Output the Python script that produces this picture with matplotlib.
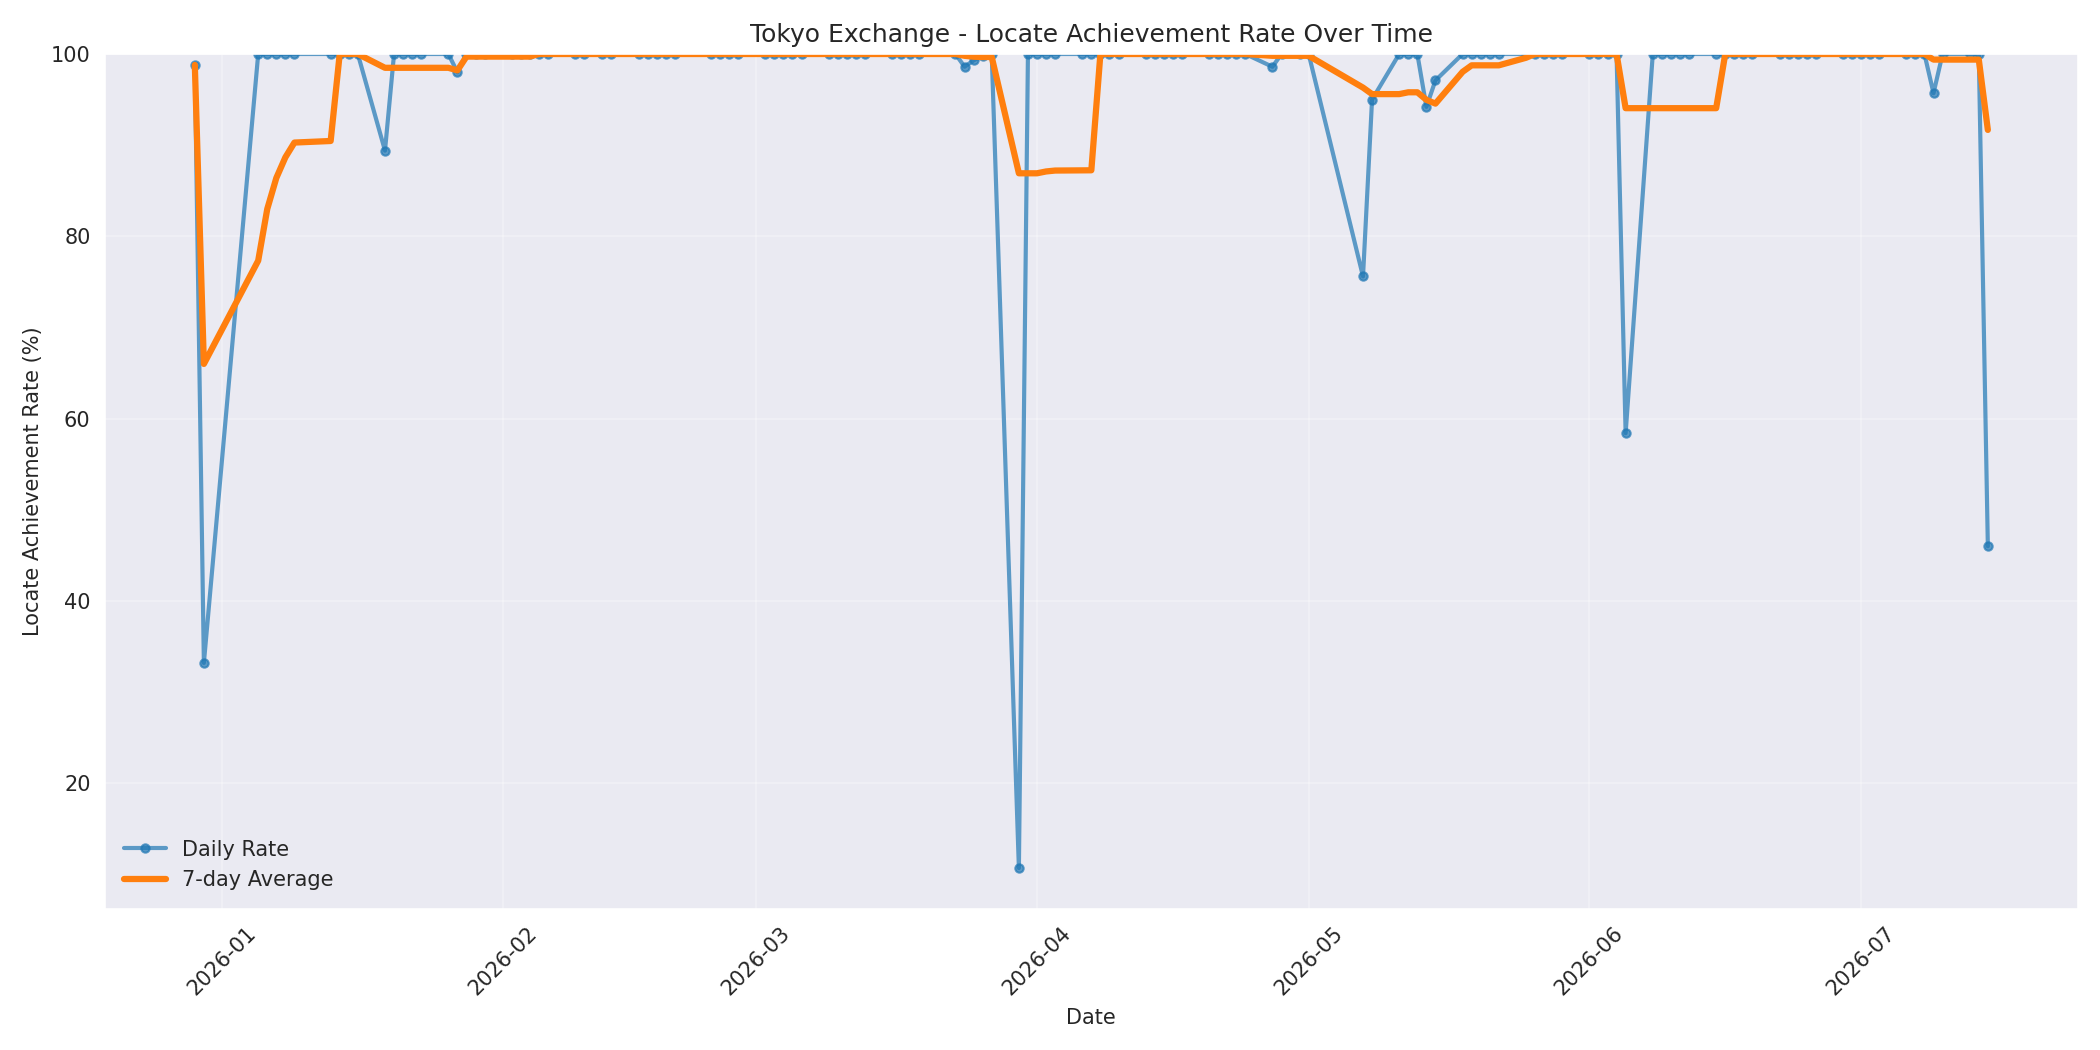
import matplotlib
matplotlib.use("Agg")
import matplotlib.pyplot as plt
import matplotlib.dates as mdates
import seaborn as sns
import pandas as pd

dates = [
    "2025-12-29", "2025-12-30",
    "2026-01-05", "2026-01-06", "2026-01-07", "2026-01-08", "2026-01-09",
    "2026-01-13", "2026-01-14", "2026-01-15", "2026-01-16",
    "2026-01-19", "2026-01-20", "2026-01-21", "2026-01-22", "2026-01-23",
    "2026-01-26", "2026-01-27", "2026-01-28", "2026-01-29", "2026-01-30",
    "2026-02-02", "2026-02-03", "2026-02-04", "2026-02-05", "2026-02-06",
    "2026-02-09", "2026-02-10", "2026-02-12", "2026-02-13",
    "2026-02-16", "2026-02-17", "2026-02-18", "2026-02-19", "2026-02-20",
    "2026-02-24", "2026-02-25", "2026-02-26", "2026-02-27",
    "2026-03-02", "2026-03-03", "2026-03-04", "2026-03-05", "2026-03-06",
    "2026-03-09", "2026-03-10", "2026-03-11", "2026-03-12", "2026-03-13",
    "2026-03-16", "2026-03-17", "2026-03-18", "2026-03-19",
    "2026-03-23", "2026-03-24", "2026-03-25", "2026-03-26", "2026-03-27",
    "2026-03-30", "2026-03-31", "2026-04-01", "2026-04-02", "2026-04-03",
    "2026-04-06", "2026-04-07", "2026-04-08", "2026-04-09", "2026-04-10",
    "2026-04-13", "2026-04-14", "2026-04-15", "2026-04-16", "2026-04-17",
    "2026-04-20", "2026-04-21", "2026-04-22", "2026-04-23", "2026-04-24",
    "2026-04-27", "2026-04-28", "2026-04-30", "2026-05-01",
    "2026-05-07", "2026-05-08",
    "2026-05-11", "2026-05-12", "2026-05-13", "2026-05-14", "2026-05-15",
    "2026-05-18", "2026-05-19", "2026-05-20", "2026-05-21", "2026-05-22",
    "2026-05-25", "2026-05-26", "2026-05-27", "2026-05-28", "2026-05-29",
    "2026-06-01", "2026-06-02", "2026-06-03", "2026-06-04", "2026-06-05",
    "2026-06-08", "2026-06-09", "2026-06-10", "2026-06-11", "2026-06-12",
    "2026-06-15", "2026-06-16", "2026-06-17", "2026-06-18", "2026-06-19",
    "2026-06-22", "2026-06-23", "2026-06-24", "2026-06-25", "2026-06-26",
    "2026-06-29", "2026-06-30", "2026-07-01", "2026-07-02", "2026-07-03",
    "2026-07-06", "2026-07-07", "2026-07-08", "2026-07-09", "2026-07-10",
    "2026-07-13", "2026-07-14", "2026-07-15",
]
daily_rate = [
    98.8, 33.2,
    100, 100, 100, 100, 100,
    100, 100, 100, 100,
    89.4, 100, 100, 100, 100,
    100, 98.0, 100, 100, 100,
    100, 100, 100, 100, 100,
    100, 100, 100, 100,
    100, 100, 100, 100, 100,
    100, 100, 100, 100,
    100, 100, 100, 100, 100,
    100, 100, 100, 100, 100,
    100, 100, 100, 100,
    100, 98.6, 99.3, 99.8, 100,
    10.7, 100, 100, 100, 100,
    100, 100, 100, 100, 100,
    100, 100, 100, 100, 100,
    100, 100, 100, 100, 100,
    98.6, 100, 100, 100,
    75.6, 95.0,
    100, 100, 100, 94.2, 97.1,
    100, 100, 100, 100, 100,
    100, 100, 100, 100, 100,
    100, 100, 100, 100, 58.4,
    100, 100, 100, 100, 100,
    100, 100, 100, 100, 100,
    100, 100, 100, 100, 100,
    100, 100, 100, 100, 100,
    100, 100, 100, 95.7, 100,
    100, 100, 46.0,
]

s = pd.Series(daily_rate, index=pd.to_datetime(dates))
avg7 = s.rolling(7, min_periods=1).mean()

sns.set_style("darkgrid")
plt.rcParams['font.family'] = ['DejaVu Sans']
fig, ax = plt.subplots(figsize=(14, 7), dpi=150)
ax.plot(s.index, s.values, marker='o', markersize=4, linewidth=2, alpha=0.7,
        color='#1f77b4', label='Daily Rate')
ax.plot(avg7.index, avg7.values, linewidth=3, color='#ff7f0e', label='7-day Average')
ax.set_ylim(top=100)
ax.set_title('Tokyo Exchange - Locate Achievement Rate Over Time', fontsize=12)
ax.set_xlabel('Date')
ax.set_ylabel('Locate Achievement Rate (%)')
ax.grid(True, alpha=0.3)
ax.xaxis.set_major_locator(mdates.MonthLocator())
ax.xaxis.set_major_formatter(mdates.DateFormatter('%Y-%m'))
plt.setp(ax.get_xticklabels(), rotation=45)
ax.legend(loc='lower left', frameon=False)
fig.tight_layout()
fig.savefig('out.png')
